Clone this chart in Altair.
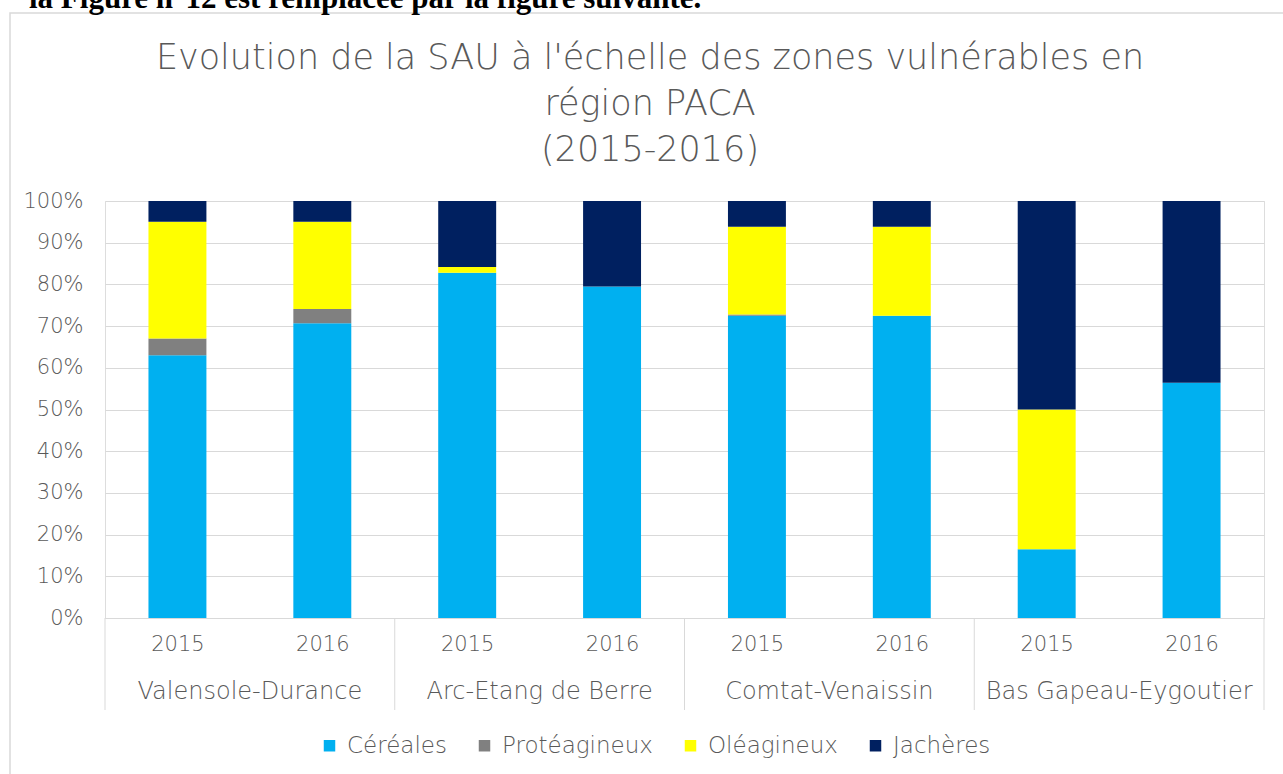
import altair as alt
import pandas as pd

# ---- data ----
zones = ["Valensole-Durance", "Arc-Etang de Berre", "Comtat-Venaissin", "Bas Gapeau-Eygoutier"]
years = ["2015", "2016"]
categories = ["Céréales", "Protéagineux", "Oléagineux", "Jachères"]
colors = ["#00B0F0", "#808080", "#FFFF00", "#002060"]

# one value per bar (order: zone x year), in %
cereales     = [63.0, 70.7, 82.8, 79.5, 72.5, 72.5, 16.5, 56.4]
proteagineux = [ 4.0,  3.4,  0.0,  0.0,  0.3,  0.0,  0.0,  0.0]
oleagineux   = [28.0, 20.9,  1.4,  0.0, 21.0, 21.3, 33.5,  0.0]
jacheres     = [ 5.0,  5.0, 15.8, 20.5,  6.2,  6.2, 50.0, 43.6]

series = [cereales, proteagineux, oleagineux, jacheres]

title_text = ("Evolution de la SAU à l'échelle des zones vulnérables en\n"
              "région PACA\n(2015-2016)")
header_text = "la Figure n°12 est remplacée par la figure suivante."

rows = []
for ci, (cat, vals) in enumerate(zip(categories, series)):
    for i, v in enumerate(vals):
        rows.append({"idx": i, "zone": zones[i // 2], "year": years[i % 2],
                     "cat": cat, "order": ci, "value": v})
df = pd.DataFrame(rows)

groups = pd.DataFrame({"zone": zones, "pos": [1, 3, 5, 7]})
seps = pd.DataFrame({"pos": [0, 2, 4, 6, 8]})
one = pd.DataFrame({"t": [header_text], "title": [title_text]})

W, H = 1159, 417
L, T = 105, 201
GRAY = "#595959"
FONT = "DejaVu Sans"
FW = 300

xscale = alt.Scale(domain=[0, 8], nice=False, zero=False)

bars = alt.Chart(df).transform_stack(
    stack="value", groupby=["idx"], as_=["y0", "y1"],
    sort=[alt.SortField("order", "ascending")]
).transform_calculate(
    xa="datum.idx + 0.3", xb="datum.idx + 0.7"
).mark_rect().encode(
    x=alt.X("xa:Q", scale=xscale,
            axis=alt.Axis(values=[0.5, 1.5, 2.5, 3.5, 4.5, 5.5, 6.5, 7.5],
                          labelExpr="floor(datum.value) % 2 == 0 ? '2015' : '2016'",
                          title=None, grid=False, ticks=False, domain=True,
                          domainColor="#d9d9d9", labelFontSize=21, labelColor=GRAY,
                          labelFont=FONT, labelFontWeight=FW, labelPadding=15)),
    x2="xb:Q",
    y=alt.Y("y0:Q", scale=alt.Scale(domain=[0, 100], nice=False),
            axis=alt.Axis(values=list(range(0, 101, 10)),
                          labelExpr="datum.value + '%'", title=None,
                          grid=True, gridColor="#d9d9d9", domain=False, ticks=False,
                          labelFontSize=21, labelColor=GRAY, labelFont=FONT,
                          labelFontWeight=FW, labelPadding=22)),
    y2="y1:Q",
    color=alt.Color("cat:N", scale=alt.Scale(domain=categories, range=colors),
                    legend=alt.Legend(orient="none", legendX=213, legendY=533,
                                      direction="horizontal", title=None,
                                      symbolType="square", symbolSize=132,
                                      symbolStrokeWidth=0, labelFontSize=23,
                                      labelColor=GRAY, labelFont=FONT,
                                      labelFontWeight=FW,
                                      columnPadding=26, labelOffset=6)),
)

grp_text = alt.Chart(groups).mark_text(
    fontSize=24, color=GRAY, font=FONT, fontWeight=FW, baseline="middle", align="center"
).encode(x=alt.X("pos:Q", scale=xscale), y=alt.value(H + 74), text="zone:N")

sep_rules = alt.Chart(seps).mark_rule(color="#d9d9d9", strokeWidth=1).encode(
    x=alt.X("pos:Q", scale=xscale), y=alt.value(H), y2=alt.value(H + 92))

frame = alt.Chart(one).mark_rect(fillOpacity=0, stroke="#d9d9d9", strokeWidth=1.5).encode(
    x=alt.value(10 - L), x2=alt.value(1290 - L),
    y=alt.value(13 - T), y2=alt.value(780 - T))

header = alt.Chart(one).mark_text(
    font="Liberation Serif", fontWeight="bold", fontSize=31, color="black",
    align="left", baseline="alphabetic"
).encode(x=alt.value(29 - L), y=alt.value(8 - T), text="t:N")

title = alt.Chart(one).mark_text(
    font=FONT, fontWeight=FW, fontSize=35, color=GRAY, align="center",
    baseline="alphabetic", lineBreak="\n", lineHeight=46
).encode(x=alt.value(650 - L), y=alt.value(69 - T), text="title:N")

chart = alt.layer(frame, header, title, sep_rules, bars, grp_text).properties(
    width=W, height=H,
    autosize=alt.AutoSizeParams(type="none"),
    padding={"left": L, "top": T, "right": 1283 - L - W, "bottom": 774 - T - H},
).configure_view(stroke=None).configure(background="white")

chart.save("out.html", embed_options={"renderer": "svg", "actions": False})
